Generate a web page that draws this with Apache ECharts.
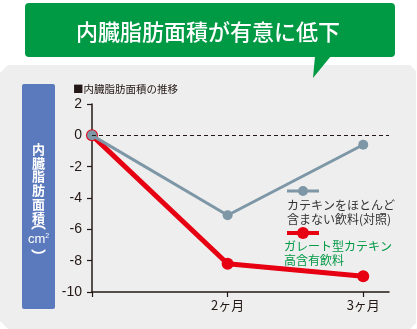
<!DOCTYPE html>
<html>
<head>
<meta charset="utf-8">
<script src="https://cdn.jsdelivr.net/npm/echarts@6/dist/echarts.min.js"></script>
<style>
  html, body { margin: 0; padding: 0; background: #fff; }
  #chart { width: 417px; height: 329px; }
</style>
</head>
<body>
<div id="chart"></div>
<script>
// Time points (0 = baseline) and change in visceral fat area (cm²)
const categories = ['', '2ヶ月', '3ヶ月'];
const controlValues = [0, -5.1, -0.6];     // カテキンをほとんど含まない飲料（対照）
const catechinValues = [0, -8.2, -9.0];    // ガレート型カテキン高含有飲料
const yMin = -10, yMax = 2, yStep = 2;

const titleText = '内臓脂肪面積が有意に低下';
const subTitle = '■内臓脂肪面積の推移';
const controlName = 'カテキンをほとんど\n含まない飲料(対照)';
const catechinName = 'ガレート型カテキン\n高含有飲料';

const JP = '"Noto Sans CJK JP", "Noto Sans", sans-serif';
const NUM = '"Liberation Sans", Arial, sans-serif';
const GRAY = '#7d97a7';
const RED = '#e60012';
const GREEN = '#009944';
const INK = '#231815';

const chart = echarts.init(document.getElementById('chart'));

const toPoints = arr => arr.map((v, i) => [i, v]);

chart.setOption({
  backgroundColor: '#ffffff',
  animation: false,
  grid: { left: 92, right: 28, top: 104, bottom: 37, containLabel: false },
  xAxis: {
    type: 'value',
    min: 0,
    max: 2.19,
    interval: 1,
    splitLine: { show: false },
    axisLine: { show: true, onZero: false, lineStyle: { color: INK, width: 1.5 } },
    axisTick: { show: true, length: 5, customValues: [0, 1, 2], lineStyle: { color: INK, width: 1.2 } },
    axisLabel: {
      customValues: [1, 2],
      formatter: v => categories[Math.round(v)] || '',
      color: INK, fontSize: 13, fontFamily: JP, margin: 7
    }
  },
  yAxis: {
    type: 'value',
    min: yMin,
    max: yMax,
    interval: yStep,
    splitLine: { show: false },
    axisLine: { show: true, onZero: false, lineStyle: { color: INK, width: 1.5 } },
    axisTick: { show: true, length: 5, lineStyle: { color: INK, width: 1.2 } },
    axisLabel: { color: INK, fontSize: 14, fontFamily: NUM, margin: 10 }
  },
  series: [
    {
      name: 'catechin',
      type: 'line',
      data: toPoints(catechinValues),
      symbol: 'circle',
      symbolSize: 12,
      lineStyle: { color: RED, width: 5 },
      itemStyle: { color: RED },
      z: 3,
      markLine: {
        silent: true,
        symbol: 'none',
        label: { show: false },
        lineStyle: { color: INK, type: [4, 3], width: 1 },
        data: [{ yAxis: 0 }]
      }
    },
    {
      name: 'control',
      type: 'line',
      data: toPoints(controlValues),
      symbol: 'circle',
      symbolSize: 10,
      lineStyle: { color: GRAY, width: 3 },
      itemStyle: { color: GRAY },
      z: 4
    }
  ],
  graphic: [
    // light gray panel behind the chart
    {
      type: 'polygon', z: -10, silent: true,
      shape: { points: [[0, 73], [8, 65], [410, 65], [416, 71], [416, 323], [410, 329], [8, 329], [0, 321]] },
      style: { fill: '#eeeeee' }
    },
    // green speech balloon
    {
      type: 'rect', z: 5, silent: true,
      shape: { x: 25, y: 3, width: 370, height: 54, r: 4 },
      style: { fill: GREEN }
    },
    {
      type: 'polygon', z: 5, silent: true,
      shape: { points: [[315, 56], [331, 56], [313, 78]] },
      style: { fill: GREEN }
    },
    {
      type: 'text', z: 6, silent: true,
      x: 208, y: 32,
      style: {
        text: titleText, fill: '#ffffff',
        font: '500 22px ' + JP,
        align: 'center', verticalAlign: 'middle'
      }
    },
    // blue y-axis name box
    {
      type: 'rect', z: 5, silent: true,
      shape: { x: 22, y: 84, width: 33, height: 225, r: 2 },
      style: { fill: '#5b79bd' }
    },
    {
      type: 'text', z: 6, silent: true,
      x: 38.5, y: 142,
      style: {
        text: '内\n臓\n脂\n肪\n面\n積', fill: '#ffffff',
        font: 'bold 13px ' + JP, lineHeight: 13.8,
        align: 'center', verticalAlign: 'top'
      }
    },
    {
      type: 'text', z: 6, silent: true,
      x: 38.5, y: 222,
      style: { text: '︵', fill: '#ffffff', font: 'bold 15px ' + JP, align: 'center', verticalAlign: 'middle' }
    },
    {
      type: 'text', z: 6, silent: true,
      x: 38.5, y: 239,
      style: {
        text: '{a|cm}{b|2}', fill: '#ffffff', align: 'center', verticalAlign: 'middle',
        rich: {
          a: { fontSize: 13, fontFamily: NUM, fill: '#ffffff', color: '#ffffff' },
          b: { fontSize: 7, fontFamily: NUM, verticalAlign: 'top', fill: '#ffffff', color: '#ffffff', padding: [0, 0, 6, 0] }
        }
      }
    },
    {
      type: 'text', z: 6, silent: true,
      x: 38.5, y: 256,
      style: { text: '︶', fill: '#ffffff', font: 'bold 15px ' + JP, align: 'center', verticalAlign: 'middle' }
    },
    // caption above the plot
    {
      type: 'text', z: 6, silent: true,
      x: 73, y: 89,
      style: { text: subTitle, fill: INK, font: '10.5px ' + JP, align: 'left', verticalAlign: 'middle' }
    },
    // legend: control drink
    {
      type: 'line', z: 6, silent: true,
      shape: { x1: 287, y1: 191, x2: 319, y2: 191 },
      style: { stroke: GRAY, lineWidth: 3 }
    },
    {
      type: 'circle', z: 6, silent: true,
      shape: { cx: 303, cy: 191, r: 5 },
      style: { fill: GRAY }
    },
    {
      type: 'text', z: 6, silent: true,
      x: 287, y: 198,
      style: { text: controlName, fill: '#333333', font: '12px ' + JP, lineHeight: 14.5, align: 'left', verticalAlign: 'top' }
    },
    // legend: galloylated catechin drink
    {
      type: 'line', z: 6, silent: true,
      shape: { x1: 287, y1: 233, x2: 319, y2: 233 },
      style: { stroke: RED, lineWidth: 4 }
    },
    {
      type: 'circle', z: 6, silent: true,
      shape: { cx: 303, cy: 233, r: 6 },
      style: { fill: RED }
    },
    {
      type: 'text', z: 6, silent: true,
      x: 284, y: 240,
      style: { text: catechinName, fill: GREEN, font: '12px ' + JP, lineHeight: 13.5, align: 'left', verticalAlign: 'top' }
    }
  ]
});
</script>
</body>
</html>
